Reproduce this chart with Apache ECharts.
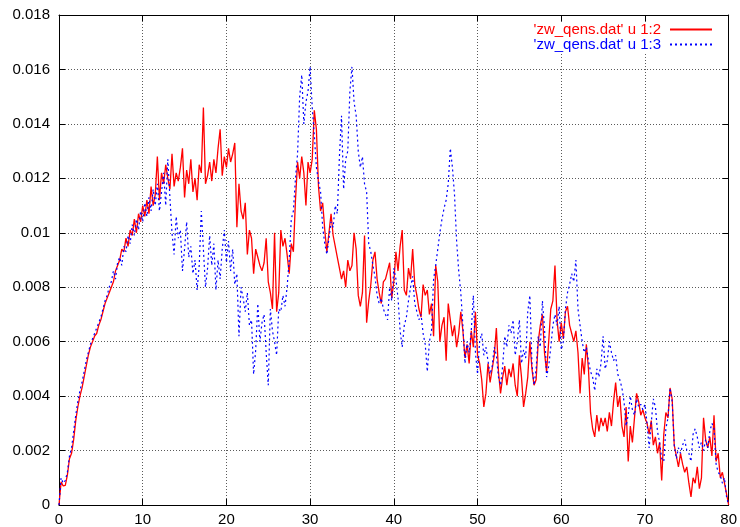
<!DOCTYPE html>
<html>
<head>
<meta charset="utf-8">
<script src="https://cdn.jsdelivr.net/npm/echarts@6/dist/echarts.min.js"></script>
<style>html,body{margin:0;padding:0;background:#fff;}#c{width:740px;height:527px;}</style>
</head>
<body>
<div id="c"></div>
<script>
// sampling grid of the x column
const xStart = 0;
const xStep = 0.25;
const xTickLabels = ['0','10','20','30','40','50','60','70','80'];
const yTickLabels = ['0','0.002','0.004','0.006','0.008','0.01','0.012','0.014','0.016','0.018'];
const seriesNames = ["'zw_qens.dat' u 1:2", "'zw_qens.dat' u 1:3"];

// column 2 (red), read every 0.25 in x
const col2 = [
0,0.00085,0.0007,0.00072, 0.0011,0.0017,0.0019,0.0024, 0.0031,0.0036,0.0040,0.0043, 0.0047,0.0051,0.0055,0.0058,
0.0060,0.0062,0.0063,0.0066, 0.0068,0.0071,0.0074,0.0076, 0.0078,0.0080,0.0082,0.0086, 0.0088,0.0090,0.0094,0.0093,
0.0098,0.0095,0.0101,0.0099, 0.0105,0.0100,0.0107,0.0104, 0.0110,0.0106,0.0112,0.0107, 0.0117,0.0110,0.0114,0.0128,
0.0112,0.0122,0.0118,0.0125, 0.0120,0.0116,0.0129,0.0117, 0.0122,0.0119,0.0124,0.0131, 0.0113,0.0123,0.0118,0.0127,
0.0115,0.0120,0.0112,0.0125, 0.0122,0.0146,0.0118,0.0121, 0.0126,0.0119,0.0127,0.0122, 0.0131,0.0138,0.0121,0.0128,
0.0124,0.0131,0.0126,0.0129, 0.0133,0.0102,0.0118,0.0108, 0.0105,0.0111,0.0092,0.0101, 0.0098,0.0085,0.0094,0.0091,
0.0088,0.0086,0.0089,0.0098, 0.0082,0.0078,0.0072,0.0100, 0.0071,0.0078,0.0101,0.0095, 0.0098,0.0092,0.0085,0.0096,
0.0093,0.0112,0.0126,0.0120, 0.0128,0.0122,0.0110,0.0126, 0.0122,0.0127,0.0145,0.0138, 0.0117,0.0108,0.0111,0.0101,
0.0093,0.0100,0.0107,0.0099, 0.0095,0.0091,0.0087,0.0083, 0.0086,0.0080,0.0090,0.0086, 0.0088,0.0100,0.0094,0.0077,
0.0073,0.0078,0.0099,0.0067, 0.0075,0.0081,0.0090,0.0093, 0.0083,0.0078,0.0074,0.0082, 0.0083,0.0086,0.0089,0.0076,
0.0082,0.0093,0.0086,0.0095, 0.0101,0.0079,0.0077,0.0087, 0.0083,0.0094,0.0081,0.0077, 0.0072,0.0069,0.0081,0.0077,
0.0079,0.0070,0.0074,0.0062, 0.0088,0.0082,0.0060,0.0066, 0.0069,0.0053,0.0074,0.0068, 0.0062,0.0066,0.0058,0.0063,
0.0071,0.0064,0.0054,0.0059, 0.0052,0.0064,0.0058,0.0071, 0.0055,0.0052,0.0046,0.0036, 0.0041,0.0052,0.0045,0.0050,
0.0055,0.0065,0.0049,0.0041, 0.0047,0.0051,0.0044,0.0050, 0.0047,0.0052,0.0044,0.0040, 0.0055,0.0047,0.0036,0.0041,
0.0047,0.0060,0.0050,0.0044, 0.0046,0.0060,0.0066,0.0070, 0.0056,0.0049,0.0060,0.0072, 0.0075,0.0088,0.0068,0.0060,
0.0067,0.0061,0.0071,0.0073, 0.0066,0.0063,0.0060,0.0064, 0.0056,0.0041,0.0054,0.0048, 0.0059,0.0050,0.0034,0.0028,
0.0025,0.0033,0.0027,0.0032, 0.0029,0.0032,0.0027,0.0034, 0.0029,0.0038,0.0045,0.0036, 0.0040,0.0029,0.0025,0.0036,
0.0016,0.0029,0.0023,0.0032, 0.0041,0.0038,0.0033,0.0035, 0.0032,0.0030,0.0026,0.0031, 0.0022,0.0025,0.0019,0.0023,
0.0009,0.0026,0.0034,0.0032, 0.0043,0.0039,0.0022,0.0018, 0.0014,0.0019,0.0015,0.0012, 0.0014,0.0008,0.0003,0.0010,
0.0008,0.0014,0.0006,0.0010, 0.0032,0.0024,0.0021,0.0025, 0.0018,0.0033,0.0016,0.0019, 0.0010,0.0012,0.0008,0.0004,
0
];

// column 3 (blue), read every 0.25 in x
const col3 = [
0,0.0010,0.0008,0.0009, 0.0012,0.0018,0.0021,0.0027, 0.0033,0.0038,0.0042,0.0045, 0.0049,0.0053,0.0056,0.0059,
0.0061,0.0063,0.0065,0.0067, 0.0069,0.0072,0.0075,0.0077, 0.0080,0.0082,0.0086,0.0083, 0.0089,0.0091,0.0088,0.0095,
0.0093,0.0099,0.0096,0.0103, 0.0099,0.0105,0.0101,0.0108, 0.0104,0.0111,0.0106,0.0113, 0.0108,0.0116,0.0110,0.0118,
0.0108,0.0115,0.0122,0.0110, 0.0127,0.0113,0.0100,0.0092, 0.0106,0.0098,0.0101,0.0086, 0.0094,0.0104,0.0091,0.0095,
0.0085,0.0090,0.0079,0.0088, 0.0108,0.0094,0.0080,0.0087, 0.0099,0.0088,0.0096,0.0079, 0.0090,0.0083,0.0094,0.0101,
0.0089,0.0097,0.0086,0.0094, 0.0081,0.0085,0.0062,0.0080, 0.0076,0.0071,0.0078,0.0066, 0.0068,0.0048,0.0057,0.0074,
0.0060,0.0067,0.0070,0.0056, 0.0044,0.0072,0.0064,0.0060, 0.0055,0.0072,0.0071,0.0077, 0.0073,0.0080,0.0090,0.0105,
0.0108,0.0120,0.0129,0.0150, 0.0158,0.0140,0.0148,0.0152, 0.0161,0.0146,0.0136,0.0124, 0.0119,0.0115,0.0102,0.0096,
0.0092,0.0098,0.0104,0.0102, 0.0110,0.0107,0.0128,0.0143, 0.0116,0.0127,0.0130,0.0152, 0.0161,0.0148,0.0143,0.0130,
0.0124,0.0128,0.0118,0.0115, 0.0096,0.0093,0.0088,0.0084, 0.0077,0.0074,0.0076,0.0072, 0.0070,0.0068,0.0080,0.0075,
0.0087,0.0083,0.0076,0.0064, 0.0058,0.0066,0.0069,0.0075, 0.0080,0.0084,0.0074,0.0071, 0.0068,0.0070,0.0063,0.0059,
0.0049,0.0060,0.0064,0.0083, 0.0088,0.0094,0.0100,0.0105, 0.0109,0.0112,0.0118,0.0131, 0.0124,0.0114,0.0097,0.0086,
0.0078,0.0066,0.0052,0.0060, 0.0056,0.0064,0.0077,0.0056, 0.0048,0.0060,0.0063,0.0055, 0.0058,0.0053,0.0048,0.0051,
0.0058,0.0055,0.0047,0.0044, 0.0051,0.0062,0.0058,0.0066, 0.0063,0.0068,0.0055,0.0060, 0.0068,0.0052,0.0057,0.0054,
0.0071,0.0077,0.0052,0.0044, 0.0050,0.0062,0.0058,0.0075, 0.0065,0.0047,0.0051,0.0058, 0.0066,0.0070,0.0066,0.0073,
0.0057,0.0060,0.0072,0.0078, 0.0081,0.0085,0.0082,0.0090, 0.0072,0.0066,0.0060,0.0056, 0.0058,0.0053,0.0049,0.0047,
0.0042,0.0050,0.0047,0.0052, 0.0062,0.0050,0.0053,0.0060, 0.0056,0.0053,0.0055,0.0048, 0.0046,0.0043,0.0038,0.0029,
0.0033,0.0040,0.0035,0.0033, 0.0039,0.0036,0.0037,0.0035, 0.0037,0.0030,0.0021,0.0030, 0.0039,0.0036,0.0027,0.0023,
0.0017,0.0016,0.0028,0.0032, 0.0043,0.0038,0.0022,0.0017, 0.0021,0.0019,0.0022,0.0024, 0.0020,0.0019,0.0016,0.0026,
0.0028,0.0025,0.0021,0.0023, 0.0020,0.0024,0.0021,0.0027, 0.0030,0.0028,0.0015,0.0012, 0.0011,0.0008,0.0010,0.0003,
0
];

function pairs(vals){ return vals.map((v,i)=>[xStart + i*xStep, v]); }

const FONT = '"Liberation Sans", Arial, sans-serif';
const gridLine = {show:true, lineStyle:{color:'#5a5a5a', width:1, type:[1,2]}};
const axisLine = {show:true, onZero:false, lineStyle:{color:'#000', width:1}};
const tick = {show:true, inside:true, length:6, lineStyle:{color:'#000', width:1}};

const chart = echarts.init(document.getElementById('c'), null, {renderer:'canvas'});
chart.setOption({
  animation:false,
  backgroundColor:'#fff',
  textStyle:{fontFamily:FONT},
  grid:{left:59, right:9, top:15, bottom:22, containLabel:false},
  legend:{
    orient:'vertical', right:27, top:22, align:'right',
    itemWidth:42, itemHeight:10, itemGap:0,
    backgroundColor:'#fff', padding:[0,0,0,4],
    itemStyle:{opacity:0, borderWidth:0},
    textStyle:{fontFamily:FONT, fontSize:15, lineHeight:14, padding:[0,4,0,0]},
    data:[
      {name:seriesNames[0], textStyle:{color:'#ff0000'}},
      {name:seriesNames[1], textStyle:{color:'#0000ff'}}
    ]
  },
  xAxis:[
    {type:'value', min:0, max:80, interval:10, position:'bottom',
     axisLine:axisLine, axisTick:tick, splitLine:gridLine,
     axisLabel:{show:true, margin:7, color:'#000', fontSize:15, fontFamily:FONT,
       formatter:(v)=>xTickLabels[Math.round(v/10)]}},
    {type:'value', min:0, max:80, interval:10, position:'top',
     axisLine:axisLine, axisTick:tick, splitLine:{show:false}, axisLabel:{show:false}}
  ],
  yAxis:[
    {type:'value', min:0, max:0.018, interval:0.002, position:'left',
     axisLine:axisLine, axisTick:tick, splitLine:gridLine,
     axisLabel:{show:true, margin:9, color:'#000', fontSize:15, fontFamily:FONT,
       formatter:(v)=>yTickLabels[Math.round(v/0.002)]}},
    {type:'value', min:0, max:0.018, interval:0.002, position:'right',
     axisLine:axisLine, axisTick:tick, splitLine:{show:false}, axisLabel:{show:false}}
  ],
  series:[
    {name:seriesNames[0], type:'line', data:pairs(col2), xAxisIndex:0, yAxisIndex:0,
     symbol:'none', showSymbol:false, smooth:false, sampling:null, z:2,
     lineStyle:{color:'#ff0000', width:1.3, type:'solid'}, itemStyle:{color:'#ff0000'}},
    {name:seriesNames[1], type:'line', data:pairs(col3), xAxisIndex:0, yAxisIndex:0,
     symbol:'none', showSymbol:false, smooth:false, sampling:null, z:3,
     lineStyle:{color:'#0000ff', width:1.2, type:[2,3]}, itemStyle:{color:'#0000ff'}}
  ]
});
</script>
</body>
</html>
